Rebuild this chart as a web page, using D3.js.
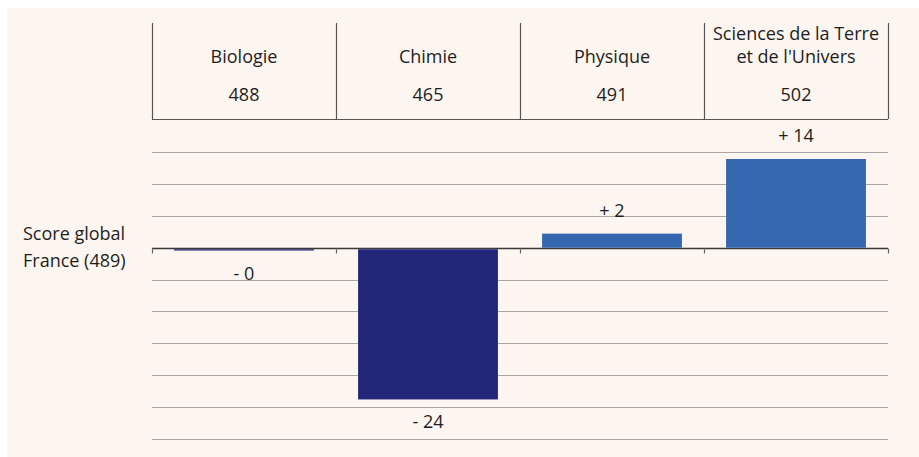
<!DOCTYPE html>
<html><head><meta charset="utf-8">
<script src="https://cdn.jsdelivr.net/npm/d3@7"></script>
<style>
html,body{margin:0;padding:0;background:#fff;}
svg{display:block;}
text{font-family:"Open Sans",sans-serif;fill:#1e1e1e;}
</style></head><body>
<script>
const categories = ["Biologie", "Chimie", "Physique", "Sciences de la Terre|et de l'Univers"];
const scores = [488, 465, 491, 502];
const differences = [-0.45, -23.8, 2.2, 13.9];
const diffLabels = ["- 0", "- 24", "+ 2", "+ 14"];
const gridTicks = [15, 10, 5, -5, -10, -15, -20, -25, -30];
const referenceLabel = ["Score global", "France (489)"];

const W = 919, H = 457, FS = 18;
const svg = d3.select("body").append("svg").attr("width", W).attr("height", H);
svg.append("rect").attr("x", 7).attr("y", 8).attr("width", W - 7).attr("height", H - 8).attr("fill", "#fdf5f0");

const x = d3.scaleBand().domain(categories).range([152, 888]).paddingInner(0.24).paddingOuter(0.12);
const y = d3.scaleLinear().domain([-30, 15]).range([439, 152]);
const step = x.step();
const colLeft = c => x(c) - (step - x.bandwidth()) / 2;

// gridlines
svg.append("g").selectAll("line").data(gridTicks).join("line")
  .attr("x1", 152).attr("x2", 888)
  .attr("y1", d => Math.round(y(d)) + 0.5).attr("y2", d => Math.round(y(d)) + 0.5)
  .attr("stroke", "#aaa6a2").attr("stroke-width", 1.2);

// header
const headerTop = 23, headerBottom = 119;
const bounds = categories.map(colLeft).concat([colLeft(categories[3]) + step]);
svg.append("g").selectAll("line").data(bounds).join("line")
  .attr("x1", d => Math.round(d) + 0.5).attr("x2", d => Math.round(d) + 0.5)
  .attr("y1", headerTop).attr("y2", headerBottom)
  .attr("stroke", "#555").attr("stroke-width", 1.2);
svg.append("line").attr("x1", 152).attr("x2", 888).attr("y1", headerBottom + 0.5).attr("y2", headerBottom + 0.5)
  .attr("stroke", "#555").attr("stroke-width", 1.2);

const hdr = svg.append("g");
categories.forEach((c, i) => {
  const cx = x(c) + x.bandwidth() / 2;
  const lines = c.split("|");
  const baseY = lines.length === 1 ? 63 : 40;
  lines.forEach((l, j) => {
    hdr.append("text").attr("x", cx).attr("y", baseY + j * 23).attr("text-anchor", "middle")
      .attr("font-size", FS).text(l);
  });
  hdr.append("text").attr("x", cx).attr("y", 101).attr("text-anchor", "middle")
    .attr("font-size", FS).text(scores[i]);
});

// zero axis (drawn before bars so thin bars stay visible)
const z = Math.round(y(0)) + 0.5;
svg.append("line").attr("x1", 152).attr("x2", 888).attr("y1", z).attr("y2", z)
  .attr("stroke", "#3a3a3a").attr("stroke-width", 1.5);
svg.append("g").selectAll("line").data(bounds).join("line")
  .attr("x1", d => Math.round(d) + 0.5).attr("x2", d => Math.round(d) + 0.5)
  .attr("y1", z).attr("y2", z + 5)
  .attr("stroke", "#666").attr("stroke-width", 1.2);

// bars
svg.append("g").selectAll("rect").data(categories).join("rect")
  .attr("x", c => x(c)).attr("width", x.bandwidth())
  .attr("y", (c, i) => differences[i] < 0 ? z + 0.75 : y(differences[i]))
  .attr("height", (c, i) => differences[i] < 0 ? y(differences[i]) - z - 0.75 : z - 0.75 - y(differences[i]))
  .attr("fill", (c, i) => differences[i] < 0 ? "#23277a" : "#3566b0");

// value labels
svg.append("g").selectAll("text").data(categories).join("text")
  .attr("x", c => x(c) + x.bandwidth() / 2)
  .attr("y", (c, i) => differences[i] < 0 ? y(differences[i]) + 29 : y(differences[i]) - 17)
  .attr("text-anchor", "middle").attr("font-size", FS)
  .text((c, i) => diffLabels[i]);

// reference label
referenceLabel.forEach((t, i) => {
  svg.append("text").attr("x", 23).attr("y", 240 + i * 27).attr("font-size", FS).text(t);
});
</script>
</body></html>
